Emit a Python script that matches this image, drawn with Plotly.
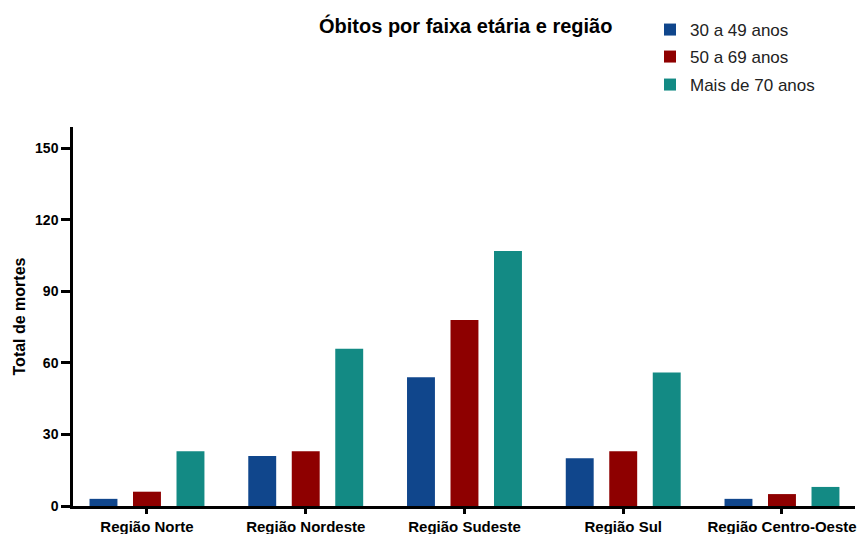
import plotly.graph_objects as go

categories = ["Região Norte", "Região Nordeste", "Região Sudeste", "Região Sul", "Região Centro-Oeste"]
series_names = ["30 a 49 anos", "50 a 69 anos", "Mais de 70 anos"]
vals_30_49 = [3, 21, 54, 20, 3]
vals_50_69 = [6, 23, 78, 23, 5]
vals_70 = [23, 66, 107, 56, 8]
colors = ["#10468c", "#8e0000", "#138a84"]
y_ticks = [0, 30, 60, 90, 120, 150]

W, H = 864, 534
L, R, T, B = 73, 9, 127, 28
pw, ph = W - L - R, H - T - B

def px_x(x):
    return (x - L) / pw

def px_y(y):
    return (H - B - y) / ph

fig = go.Figure()
legend_names = ["legend", "legend2", "legend3"]
legend_centers = [30, 57, 85]
for name, vals, col, lg in zip(series_names, [vals_30_49, vals_50_69, vals_70], colors, legend_names):
    fig.add_trace(go.Bar(x=categories, y=vals, name=name, marker=dict(color=col, line=dict(width=0)),
                         legend=lg, showlegend=True))

font_family = "Liberation Sans, Arial, sans-serif"
legend_common = dict(x=px_x(650), xanchor="left", yanchor="middle", bgcolor="rgba(0,0,0,0)",
                     font=dict(family=font_family, size=17, color="#222222"), visible=True)
fig.update_layout(
    width=W, height=H,
    margin=dict(l=L, r=R, t=T, b=B, autoexpand=False),
    plot_bgcolor="white", paper_bgcolor="white",
    barmode="group", bargap=0.178, bargroupgap=0.358,
    font=dict(family=font_family, color="black"),
    showlegend=True,
    legend=dict(y=px_y(legend_centers[0]), **legend_common),
    legend2=dict(y=px_y(legend_centers[1]), **legend_common),
    legend3=dict(y=px_y(legend_centers[2]), **legend_common),
    annotations=[dict(text="<b>Óbitos por faixa etária e região</b>", xref="paper", yref="paper",
                      x=px_x(465), y=px_y(26), xanchor="center", yanchor="middle", showarrow=False,
                      font=dict(family=font_family, size=20, color="black"))],
)
fig.update_xaxes(range=[-0.466, 4.46], showline=True, linecolor="black", linewidth=2.5,
                 ticks="outside", ticklen=5, tickwidth=2.5, tickcolor="black",
                 tickfont=dict(family=font_family, size=15, color="black", weight="bold"),
                 showgrid=False, zeroline=False, automargin=False)
fig.update_yaxes(range=[0, 159], tickvals=y_ticks, showline=True, linecolor="black", linewidth=2.5,
                 ticks="outside", ticklen=9, tickwidth=2.5, tickcolor="black",
                 tickfont=dict(family=font_family, size=14, color="black", weight="bold"),
                 title=dict(text="<b>Total de mortes</b>", font=dict(family=font_family, size=16, color="black"),
                            standoff=6),
                 showgrid=False, zeroline=False, automargin=False)

fig.write_html("out.html", config={"displayModeBar": False},
               post_script="document.body.style.margin='0';document.body.style.padding='0';")
